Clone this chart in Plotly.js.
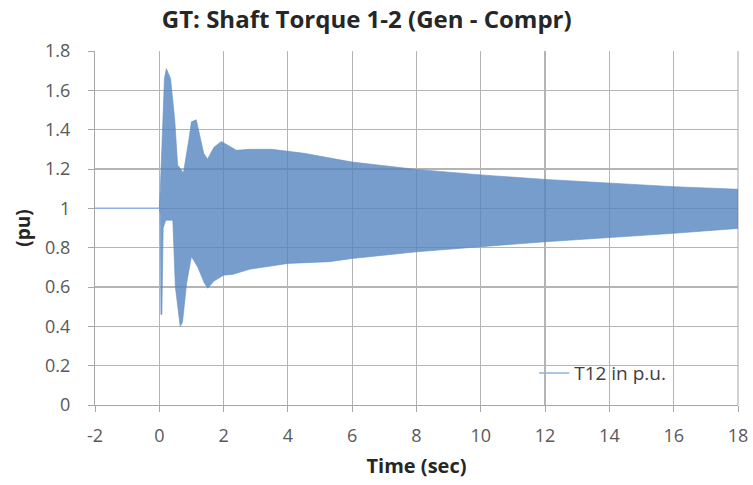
<!DOCTYPE html>
<html>
<head>
<meta charset="utf-8">
<script src="https://cdn.plot.ly/plotly-3.0.1.min.js"></script>
<style>html,body{margin:0;padding:0;background:#fff;}#chart{width:753px;height:485px;}</style>
</head>
<body>
<div id="chart"></div>
<script>
// Pre-fault steady state (sec, pu)
const preTime = [-2, 0];
const preTorque = [1.0, 1.0];

// Upper envelope of the oscillating torque (sec, pu)
const upperTime = [0.0, 0.03, 0.16, 0.22, 0.35, 0.48, 0.57, 0.75, 0.92, 1.0, 1.15, 1.25, 1.38, 1.5, 1.7, 1.93, 2.15, 2.4, 2.8, 3.5, 4.5, 5.3, 6, 8, 10, 12, 14, 16, 18];
const upperTorque = [1.0, 1.09, 1.66, 1.71, 1.66, 1.45, 1.22, 1.18, 1.35, 1.44, 1.45, 1.38, 1.28, 1.25, 1.31, 1.34, 1.32, 1.295, 1.30, 1.30, 1.28, 1.254, 1.235, 1.198, 1.17, 1.147, 1.127, 1.11, 1.097];

// Lower envelope of the oscillating torque (sec, pu)
const lowerTime = [0.0, 0.03, 0.05, 0.08, 0.12, 0.2, 0.42, 0.5, 0.65, 0.72, 0.85, 1.0, 1.2, 1.4, 1.51, 1.7, 2.0, 2.3, 2.8, 4.0, 5.3, 6, 8, 10, 12, 14, 16, 18];
const lowerTorque = [1.0, 0.97, 0.46, 0.46, 0.9, 0.94, 0.94, 0.6, 0.40, 0.42, 0.62, 0.755, 0.70, 0.62, 0.594, 0.63, 0.66, 0.665, 0.69, 0.72, 0.729, 0.745, 0.779, 0.805, 0.83, 0.852, 0.873, 0.898];

// Axis ticks
const xTickVals = [-2, 0, 2, 4, 6, 8, 10, 12, 14, 16, 18];
const xTickText = ['-2', '0', '2', '4', '6', '8', '10', '12', '14', '16', '18'];
const seriesName = 'T12 in p.u.';

const bandX = upperTime.concat(lowerTime.slice().reverse());
const bandY = upperTorque.concat(lowerTorque.slice().reverse());

const FONT = '"Open Sans", Lato, sans-serif';

const traces = [
  {
    x: bandX, y: bandY, type: 'scatter', mode: 'lines',
    fill: 'toself', fillcolor: 'rgba(79,129,189,0.78)',
    line: {color: 'rgba(100,145,200,0.6)', width: 1},
    showlegend: false, hoverinfo: 'skip'
  },
  {
    x: preTime, y: preTorque, type: 'scatter', mode: 'lines',
    name: seriesName,
    line: {color: '#8eb0dc', width: 1.5}
  }
];

const layout = {
  width: 753, height: 485,
  margin: {l: 95, r: 15, t: 51, b: 80},
  paper_bgcolor: '#fff', plot_bgcolor: '#fff',
  font: {family: FONT, size: 18, color: '#595959'},
  title: {
    text: 'GT: Shaft Torque 1-2 (Gen - Compr)',
    font: {family: FONT, size: 24, color: '#262626', weight: 'bold'},
    x: 0.487, xanchor: 'center', y: 0.959, yanchor: 'middle'
  },
  xaxis: {
    range: [-2, 18], tickvals: xTickVals, ticktext: xTickText,
    showgrid: true, gridcolor: '#b4b4b4', gridwidth: 1.2,
    showline: true, linecolor: '#a6a6a6', linewidth: 1,
    ticks: 'outside', ticklen: 6, tickcolor: '#a6a6a6',
    ticklabelstandoff: 8,
    zeroline: false, mirror: false,
    tickfont: {family: FONT, size: 18, color: '#595959'},
    title: {text: 'Time (sec)', font: {family: FONT, size: 20, color: '#262626', weight: 'bold'}, standoff: 13}
  },
  yaxis: {
    range: [0, 1.8], dtick: 0.2, tick0: 0,
    showgrid: true, gridcolor: '#b4b4b4', gridwidth: 1.2,
    showline: true, linecolor: '#a6a6a6', linewidth: 1,
    ticks: 'outside', ticklen: 6, tickcolor: '#a6a6a6',
    ticklabelstandoff: 14,
    zeroline: false,
    tickfont: {family: FONT, size: 18, color: '#595959'},
    title: {text: '(pu)', font: {family: FONT, size: 19, color: '#262626', weight: 'bold'}, standoff: 9}
  },
  shapes: [
    {type: 'rect', xref: 'paper', yref: 'paper', x0: 0.583, x1: 0.979, y0: 0.028, y1: 0.1497,
     fillcolor: '#ffffff', line: {width: 0}, layer: 'between'},
    {type: 'line', xref: 'paper', yref: 'paper', x0: 1, x1: 1, y0: 0, y1: 1,
     line: {color: '#b4b4b4', width: 1.2}, layer: 'between'}
  ],
  legend: {
    x: 0.683, xanchor: 'left', y: 0.09, yanchor: 'middle',
    bgcolor: 'rgba(0,0,0,0)', borderwidth: 0,
    font: {family: FONT, size: 19, color: '#404040'}
  },
  showlegend: true
};

Plotly.newPlot('chart', traces, layout, {displayModeBar: false, staticPlot: true});
</script>
</body>
</html>
